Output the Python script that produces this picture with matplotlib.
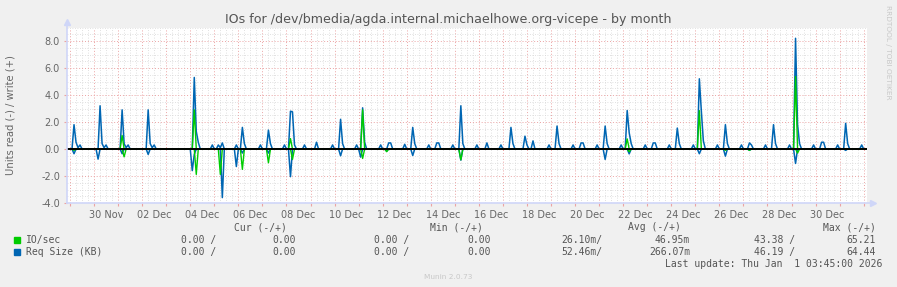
import numpy as np
import pandas as pd
import matplotlib
matplotlib.use("Agg")
import matplotlib.pyplot as plt
import matplotlib.dates as mdates
from matplotlib.ticker import MultipleLocator, FuncFormatter
from matplotlib.transforms import ScaledTranslation

# ---------------- data (hours after 2025-11-29 00:00, 2-hour samples) ----------------
start = pd.Timestamp("2025-11-29 00:00")

# Req Size (KB) - write (+)
reqsize_write = [
    (4, 1.8), (6, 0.5), (8, 0.1), (10, 0.3),
    (30, 3.2), (32, 0.4), (34, 0.1), (36, 0.3),
    (52, 2.9), (54, 0.4), (56, 0.1), (58, 0.3),
    (78, 2.9), (80, 0.4), (82, 0.1), (84, 0.3),
    (124, 5.3), (126, 1.3), (128, 0.5),
    (142, 0.3),
    (148, 0.3), (150, 0.1), (152, 0.45),
    (166, 0.3),
    (172, 1.6), (174, 0.4),
    (190, 0.3),
    (198, 1.4), (200, 0.4),
    (214, 0.3),
    (220, 2.8), (222, 2.75), (224, 0.3),
    (234, 0.3),
    (246, 0.5),
    (262, 0.3),
    (270, 2.2), (272, 0.4),
    (286, 0.3),
    (292, 3.05), (294, 0.5),
    (310, 0.3),
    (318, 0.45), (320, 0.45),
    (334, 0.35),
    (342, 1.6), (344, 0.4),
    (358, 0.3),
    (366, 0.45), (368, 0.45),
    (382, 0.3),
    (390, 3.2), (392, 0.4),
    (406, 0.3),
    (416, 0.45),
    (430, 0.3),
    (440, 1.6), (442, 0.4),
    (454, 0.95), (456, 0.3),
    (462, 0.6),
    (478, 0.3),
    (486, 1.7), (488, 0.4),
    (502, 0.3),
    (510, 0.45), (512, 0.45),
    (526, 0.3),
    (534, 1.7), (536, 0.4),
    (550, 0.3),
    (556, 2.85), (558, 1.2), (560, 0.4),
    (574, 0.3),
    (582, 0.45), (584, 0.45),
    (598, 0.3),
    (606, 1.55), (608, 0.4),
    (622, 0.3),
    (628, 5.2), (630, 2.8), (632, 0.6),
    (646, 0.3),
    (654, 1.8), (656, 0.4),
    (670, 0.3),
    (678, 0.45), (680, 0.3),
    (694, 0.3),
    (702, 1.8), (704, 0.4),
    (718, 0.3),
    (724, 8.2), (726, 1.8), (728, 0.4),
    (742, 0.3),
    (750, 0.5), (752, 0.5),
    (766, 0.3),
    (774, 1.9), (776, 0.4),
    (790, 0.3),
]

# Req Size (KB) - read (-), magnitudes
reqsize_read = [
    (4, 0.35), (28, 0.75), (52, 0.35), (78, 0.4),
    (122, 1.6), (124, 0.4), (152, 3.6), (166, 1.3), (172, 0.3),
    (198, 0.3), (220, 2.05), (270, 0.5), (290, 0.6), (316, 0.16),
    (342, 0.48), (390, 0.82), (534, 0.77), (558, 0.36), (628, 0.35),
    (654, 0.53), (678, 0.1), (724, 1.07), (774, 0.1),
]

# IO/sec - write (+)
io_write = [
    (52, 1.0), (124, 2.9), (220, 0.77), (292, 2.9),
    (556, 0.75), (628, 2.84), (724, 5.37),
]

# IO/sec - read (-), magnitudes
io_read = [
    (4, 0.1), (54, 0.58), (126, 1.88), (150, 1.88), (172, 1.51),
    (198, 1.02), (222, 0.77), (292, 0.7), (316, 0.2), (390, 0.8),
    (558, 0.2), (654, 0.1), (678, 0.1), (726, 0.3),
]

sample_hours = np.arange(-4, 798, 2)


def build(points):
    vals = np.zeros(len(sample_hours))
    for h, v in points:
        vals[np.searchsorted(sample_hours, h)] = v
    return vals


times = start + pd.to_timedelta(sample_hours, unit="h")
x = mdates.date2num(times.to_pydatetime())

rs_w = build(reqsize_write)
rs_r = build(reqsize_read)
io_w = build(io_write)
io_r = build(io_read)

GREEN = "#00CC00"
BLUE = "#0066B3"
FONTC = "#666666"
AXISC = "#CFD6F8"

# ---------------- figure ----------------
W, H = 897, 287
fig = plt.figure(figsize=(W / 100, H / 100), dpi=100, facecolor="#F0F0F0")
ax = fig.add_axes([67 / W, (H - 203) / H, 800 / W, 175.5 / H])
ax.set_facecolor("white")

ax.plot(x, rs_w, color=BLUE, lw=1.1, zorder=3)
ax.plot(x, -rs_r, color=BLUE, lw=1.1, zorder=3)
ax.plot(x, io_w, color=GREEN, lw=1.0, zorder=4)
ax.plot(x, -io_r, color=GREEN, lw=1.0, zorder=4)
ax.axhline(0, color="black", lw=1.4, zorder=5)

x0 = mdates.date2num((start - pd.Timedelta(hours=3)).to_pydatetime())
x1 = mdates.date2num((start + pd.Timedelta(hours=795.3)).to_pydatetime())
ax.set_xlim(x0, x1)
ax.set_ylim(-4.0, 9.0)

# grid
ax.xaxis.set_major_locator(mdates.DayLocator())
ax.xaxis.set_minor_locator(mdates.HourLocator(byhour=[6, 12, 18]))


def xfmt(v, pos):
    d = mdates.num2date(v)
    return d.strftime("%d %b") if d.day % 2 == 0 and d.month != 1 and d.day != 31 else ""


ax.xaxis.set_major_formatter(FuncFormatter(xfmt))
ax.yaxis.set_major_locator(MultipleLocator(2.0))
ax.yaxis.set_minor_locator(MultipleLocator(0.5))
ax.yaxis.set_major_formatter(FuncFormatter(lambda v, p: f"{v:.1f}"))

ax.set_axisbelow(True)
ax.grid(which="minor", color="#D6D6D6", lw=0.6, linestyle=(0, (1, 2)))
ax.grid(which="major", color="#EBA3A3", lw=0.7, linestyle=(0, (1, 2)))

for s in ax.spines.values():
    s.set_visible(False)

ax.tick_params(axis="both", which="major", length=2, color="#EBA3A3",
               labelsize=7, labelcolor=FONTC, pad=3)
ax.tick_params(axis="both", which="minor", length=0)
ax.tick_params(axis="y", pad=3)

# shift date labels to the middle of the day (12 px)
for lab in ax.get_xticklabels():
    lab.set_transform(lab.get_transform() + ScaledTranslation(0.12, 0, fig.dpi_scale_trans))

# axes lines with arrows
ax.plot([0, 0], [0, 1.025], transform=ax.transAxes, color=AXISC, lw=1.2, clip_on=False, zorder=6)
ax.plot([0, 1.004], [0, 0], transform=ax.transAxes, color=AXISC, lw=1.2, clip_on=False, zorder=6)
ax.plot([0], [1.03], marker="^", ms=5, color=AXISC, transform=ax.transAxes, clip_on=False, zorder=6)
ax.plot([1.007], [0], marker=">", ms=5, color=AXISC, transform=ax.transAxes, clip_on=False, zorder=6)

# ---------------- texts ----------------
def ftext(px, py, s, **kw):
    return fig.text(px / W, 1 - py / H, s, **kw)


ftext(448.5, 19, "IOs for /dev/bmedia/agda.internal.michaelhowe.org-vicepe - by month",
      ha="center", va="center", fontsize=9.05, color="#555555")
ftext(11, 115, "Units read (-) / write (+)", rotation=90, ha="center", va="center",
      fontsize=7.2, color=FONTC)
ftext(888, 5, "RRDTOOL / TOBI OETIKER", rotation=270, ha="center", va="top",
      fontsize=5.3, color="#C8C8C8")

mono = dict(family="DejaVu Sans Mono", fontsize=7, color="#555555", va="center")
ftext(234, 227, "Cur (-/+)", ha="left", **mono)
ftext(430, 227, "Min (-/+)", ha="left", **mono)
ftext(627.7, 227, "Avg (-/+)", ha="left", **mono)
ftext(822.7, 227, "Max (-/+)", ha="left", **mono)

legend_names = ["IO/sec", "Req Size (KB)"]
legend_colors = [GREEN, BLUE]
cur_vals = [("0.00 /", "0.00"), ("0.00 /", "0.00")]
min_vals = [("0.00 /", "0.00"), ("0.00 /", "0.00")]
avg_vals = [("26.10m/", "46.95m"), ("52.46m/", "266.07m")]
max_vals = [("43.38 /", "65.21"), ("46.19 /", "64.44")]

for i, yy in enumerate([240, 252]):
    fig.patches.append(matplotlib.patches.Rectangle(
        (14 / W, 1 - (yy + 2.5) / H), 5.5 / W, 5.5 / H,
        transform=fig.transFigure, color=legend_colors[i], figure=fig))
    ftext(26, yy, legend_names[i], ha="left", **mono)
    ftext(216, yy, cur_vals[i][0], ha="right", **mono)
    ftext(296, yy, cur_vals[i][1], ha="right", **mono)
    ftext(409, yy, min_vals[i][0], ha="right", **mono)
    ftext(491, yy, min_vals[i][1], ha="right", **mono)
    ftext(602.3, yy, avg_vals[i][0], ha="right", **mono)
    ftext(690, yy, avg_vals[i][1], ha="right", **mono)
    ftext(795, yy, max_vals[i][0], ha="right", **mono)
    ftext(876, yy, max_vals[i][1], ha="right", **mono)

ftext(882.7, 264, "Last update: Thu Jan  1 03:45:00 2026", ha="right", **mono)
ftext(448.5, 277, "Munin 2.0.73", ha="center", va="center", fontsize=5.3, color="#C8C8C8")

fig.savefig("out.png", dpi=100, facecolor=fig.get_facecolor())
